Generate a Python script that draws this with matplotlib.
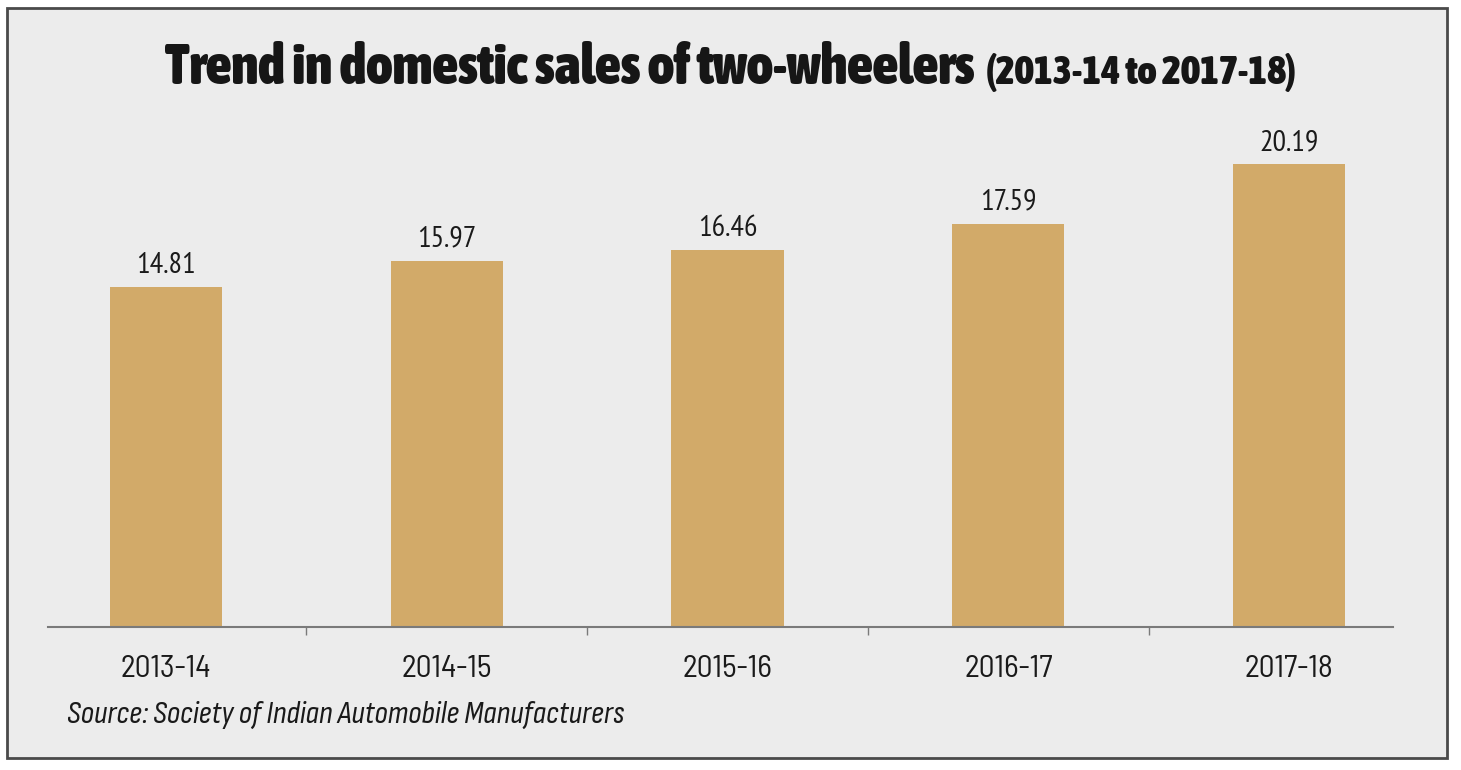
import matplotlib
matplotlib.use("Agg")
import matplotlib.pyplot as plt
from matplotlib import font_manager
from matplotlib.font_manager import FontProperties
from matplotlib.patches import Rectangle
from matplotlib.textpath import TextPath

# ---- data ----
categories = ["2013-14", "2014-15", "2015-16", "2016-17", "2017-18"]
sales = [14.81, 15.97, 16.46, 17.59, 20.19]
value_labels = ["14.81", "15.97", "16.46", "17.59", "20.19"]
title_main = "Trend in domestic sales of two-wheelers"
title_sub = "(2013-14 to 2017-18)"
source_text = "Source: Society of Indian Automobile Manufacturers"

DPI = 100
PX = DPI / 72.0


def wnum(w):
    if isinstance(w, (int, float)):
        return w
    return font_manager.weight_dict.get(w, 400)


def is_cond(f):
    return (f.stretch in ("condensed", "semi-condensed", "extra-condensed",
                          "ultra-condensed") or "Narrow" in f.name
            or "Condensed" in f.name or "condensed" in f.fname.lower())


cond = [f for f in font_manager.fontManager.ttflist if is_cond(f)
        and "CJK" not in f.name and "Mono" not in f.name
        and "Serif" not in f.name]


def ink(fp, s, size=20):
    e = TextPath((0, 0), s, size=size, prop=fp).get_extents()
    return e.width * PX, e.height * PX


def sized(fp, sample, tw, th, wexp):
    w, h = ink(fp, sample)
    sw = 20 * tw / w
    sh = 20 * th / h
    fp = fp.copy()
    fp.set_size(sw ** wexp * sh ** (1 - wexp))
    return fp


def pick_weight(style, target_w):
    c = [f for f in cond if f.style == style]
    if not c:
        return None
    c.sort(key=lambda f: abs(wnum(f.weight) - target_w))
    return FontProperties(fname=c[0].fname)


def pick_ratio(styles, wmin, wmax, sample, tw, th):
    best, bestd = None, None
    for f in cond:
        if f.style not in styles or not (wmin <= wnum(f.weight) <= wmax):
            continue
        fp = FontProperties(fname=f.fname)
        try:
            w, h = ink(fp, sample)
        except Exception:
            continue
        if h <= 0:
            continue
        d = abs(w / h - tw / th)
        if bestd is None or d < bestd:
            best, bestd = fp, d
    return best


fbb = FontProperties(family="DejaVu Sans", stretch="condensed", weight="bold")
fb = FontProperties(family="DejaVu Sans", stretch="condensed")
fbi = FontProperties(family="DejaVu Sans", stretch="condensed", style="italic")

heavy = pick_weight("normal", 900) or fbb
fp_title = sized(heavy, title_main, 819, 40, 0.85)
fp_sub = sized(heavy, "2013-14 to 2017-18", 290, 28.5, 0.85)
fp_tick = sized(pick_ratio(("normal",), 380, 420, "2013-14", 88, 22.7) or fb,
                "2013-14", 88, 22.7, 0.6)
fp_val = sized(pick_ratio(("normal",), 380, 420, "14.81", 56, 21.6) or fb,
               "14.81", 56, 21.6, 0.6)
fp_src = sized(pick_ratio(("italic", "oblique"), 380, 420, source_text, 555, 29) or fbi,
               source_text, 555, 29, 0.5)

W, H = 1461, 770
fig = plt.figure(figsize=(W / DPI, H / DPI), dpi=DPI, facecolor="white")

# outer panel
fig.patches.append(Rectangle((7 / W, (H - 758) / H), 1440 / W, 750 / H,
                             transform=fig.transFigure, facecolor="#ececec",
                             edgecolor="#4a4a4a", linewidth=2, zorder=-5))

ax_bottom_px, ax_top_px = 627, 140
ax = fig.add_axes([48 / W, (H - ax_bottom_px) / H, 1345 / W,
                   (ax_bottom_px - ax_top_px) / H])
ax.set_facecolor("none")
ax.set_zorder(1)
x = list(range(len(categories)))
bars = ax.bar(x, sales, width=0.40, color="#d2aa69", zorder=2)
ax.set_xlim(-0.42, 4.37)
ax.set_ylim(0, 21.24)
for s in ["top", "right", "left"]:
    ax.spines[s].set_visible(False)
ax.spines["bottom"].set_color("#7a7a7a")
ax.spines["bottom"].set_linewidth(1.5)
ax.set_yticks([])
ax.set_xticks(x)
ticklabels = ax.set_xticklabels(categories, fontproperties=fp_tick,
                                color="#1a1a1a")
for tl in ticklabels:
    tl.set_va("baseline")
ax.tick_params(axis="x", which="major", length=0, pad=50 / PX)
ax.set_xticks([i + 0.5 for i in x[:-1]], minor=True)
ax.tick_params(axis="x", which="minor", length=6, width=1, color="#7a7a7a")

for xi, v, lab in zip(x, sales, value_labels):
    ax.annotate(lab, (xi, v), xytext=(0, 14 / PX), textcoords="offset points",
                ha="center", va="baseline", fontproperties=fp_val,
                color="#1a1a1a")

base = (H - 83.5) / H
t1 = fig.text(0, base, title_main, fontproperties=fp_title,
              color="#161616", va="baseline", ha="left")
t2 = fig.text(0, base, title_sub, fontproperties=fp_sub,
              color="#161616", va="baseline", ha="left")
fig.text(67 / W, (H - 723) / H, source_text, fontproperties=fp_src,
         color="#1a1a1a", va="baseline", ha="left")

fig.canvas.draw()
r = fig.canvas.get_renderer()
w1 = t1.get_window_extent(r).width
w2 = t2.get_window_extent(r).width
gap = 12
total = w1 + w2 + gap
start = (W - total) / 2
t1.set_x(start / W)
t2.set_x((start + w1 + gap) / W)

fig.savefig("out.png", dpi=DPI, facecolor="white")
